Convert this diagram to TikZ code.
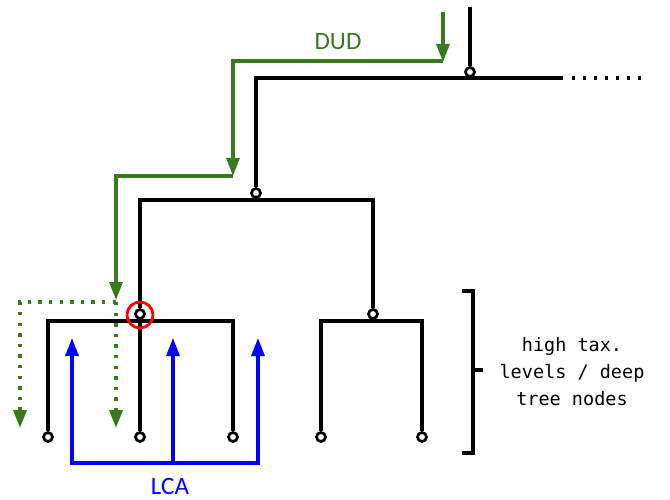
\documentclass[tikz,border=0pt]{standalone}
\usepackage{fontspec}
\setmainfont{Carlito}
\newfontfamily\monof{DejaVu Sans Mono}
\usetikzlibrary{arrows.meta}
\definecolor{dudgreen}{RGB}{58,122,30}
\begin{document}
\begin{tikzpicture}[x=1pt,y=-1pt,
  tree/.style={line width=3.1pt, draw=black},
  vtx/.style={circle, draw=black, fill=white, line width=2.7pt, inner sep=0pt, minimum size=9pt},
  gr/.style={line width=3.1pt, draw=dudgreen},
  grdot/.style={gr, line width=3.4pt, dash pattern=on 3.4pt off 7.2pt},
  tipg/.style={-{Triangle[length=18pt,width=13pt]}, dudgreen},
  bl/.style={line width=3.1pt, draw=blue},
  tipb/.style={-{Triangle[length=18pt,width=13pt]}},
  lbl/.style={font=\fontsize{25}{28}\selectfont, inner sep=0pt},
]
\useasboundingbox (0,0) rectangle (670,500);

% tree vertices
\coordinate (top) at (470,7);
\node[vtx] (r) at (470,72) {};
\node[vtx] (a) at (256,193) {};
\node[vtx] (b) at (140,314) {};
\node[vtx] (c) at (373,314) {};
\node[vtx] (l1) at (48,437) {};
\node[vtx] (l2) at (140,437) {};
\node[vtx] (l3) at (233,437) {};
\node[vtx] (l4) at (321,437) {};
\node[vtx] (l5) at (422,437) {};
\coordinate (rbar) at (563,78);
\coordinate (dots0) at (572,78);
\coordinate (dots1) at (642,78);

% tree edges
\draw[tree] (top) -- (r);
\draw[tree] (a) |- (rbar);
\draw[tree, dash pattern=on 3.2pt off 7.8pt] (dots0) -- (dots1);
\draw[tree] (b) |- (373,200) -- (c);
\draw[tree] (l1) |- (233,321) -- (l3);
\draw[tree] (l2) -- (b);
\draw[tree] (l4) |- (422,321) -- (l5);

% LCA red circle
\node[circle, draw=red, line width=2.8pt, minimum size=26pt, inner sep=0pt] (lcamark) at (140,315) {};

% DUD path
\coordinate (g0) at (443,12);
\coordinate (g1) at (443,62);
\coordinate (g2) at (233,176);
\coordinate (g3) at (116,300);
\coordinate (g4) at (20,428);
\coordinate (g5) at (116,428);
\draw[gr, tipg] (g0) -- (g1);
\draw[gr, tipg] (443,61) -| (g2);
\draw[gr, tipg] (233,176) -| (g3);
\draw[grdot, tipg] (116,302) -| (g4);
\draw[grdot, tipg] (116,302) -- (g5);
\node[lbl, text=dudgreen] (dud) at (338,42) {DUD};

% LCA arrows
\coordinate (b1) at (72,338);
\coordinate (b2) at (173,338);
\coordinate (b3) at (258,338);
\draw[bl, {Triangle[length=18pt,width=13pt]}-{Triangle[length=18pt,width=13pt]}] (b1) |- (258,463) -- (b3);
\draw[bl, tipb] (173,463) -- (b2);
\node[lbl, text=blue] (lca) at (170,486) {LCA};

% bracket
\draw[tree] (462,291) -- (473,291) -- (473,453) -- (462,453);
\draw[tree] (473,370) -- (483,370);
\node[align=center, font=\monof\fontsize{18.5}{27}\selectfont] (note) at (572,372) {high tax.\\levels / deep\\tree nodes};
\end{tikzpicture}
\end{document}
